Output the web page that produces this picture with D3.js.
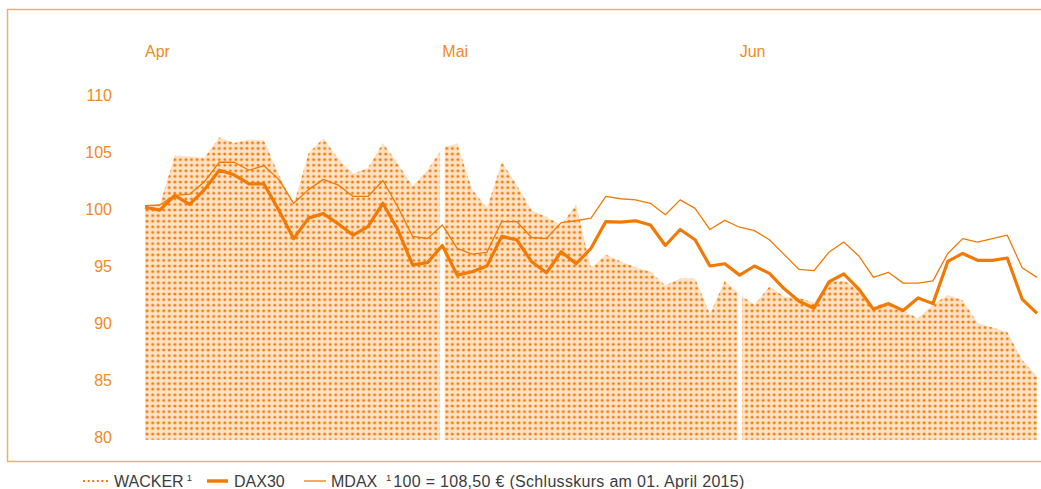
<!DOCTYPE html>
<html lang="de">
<head>
<meta charset="UTF-8">
<title>WACKER, DAX30, MDAX</title>
<script src="https://d3js.org/d3.v7.min.js"></script>
<style>
    body { margin: 0; background: #fff; }
    svg text { font-family: "Liberation Sans", Arial, sans-serif; }
</style>
</head>
<body>
<div id="chart"></div>
<script>
// Handelstage 1. April bis 30. Juni 2015, indexiert (01.04.2015 = 100)
var monate = ["Apr", "Mai", "Jun"]
var monatsStart = [0, 20, 40]   // Index des ersten Handelstags im Monat

var wacker = [100.3, 100.4, 104.7, 104.6, 104.5, 106.3, 105.8, 106.1, 106.0, 103.0,
              100.4, 104.9, 106.2, 104.4, 103.1, 103.6, 105.8, 104.0, 102.0, 103.4,
              105.4, 105.75, 101.7, 100.1, 104.15, 102.1, 99.9, 99.3, 98.6, 100.4,
              94.8, 96.0, 95.4, 94.9, 94.5, 93.3, 93.9, 93.9, 90.8, 93.7,
              92.5, 91.6, 93.2, 92.3, 92.2, 91.8, 93.6, 93.7, 93.0, 91.4,
              91.9, 91.1, 90.4, 91.6, 92.45, 92.0, 90.0, 89.6, 89.2, 86.75, 85.3]

var dax = [100.15, 99.9, 101.2, 100.4, 101.7, 103.4, 103.0, 102.2, 102.2, 99.9,
           97.4, 99.2, 99.6, 98.7, 97.7, 98.45, 100.5, 98.2, 95.1, 95.3,
           96.8, 94.2, 94.5, 95.0, 97.6, 97.3, 95.4, 94.4, 96.25, 95.2,
           96.55, 98.9, 98.85, 98.97, 98.6, 96.8, 98.2, 97.3, 95.0, 95.2,
           94.2, 95.0, 94.35, 93.0, 91.9, 91.3, 93.6, 94.3, 93.0, 91.2,
           91.7, 91.1, 92.2, 91.7, 95.4, 96.1, 95.5, 95.5, 95.7, 92.1, 90.85]

var mdax = [100.3, 100.35, 101.2, 101.3, 102.4, 104.1, 104.1, 103.4, 103.8, 102.6,
            100.5, 101.7, 102.6, 102.1, 101.1, 101.1, 102.5, 100.2, 97.6, 97.4,
            98.6, 96.55, 96.05, 96.2, 98.9, 98.9, 97.5, 97.4, 98.8, 98.97,
            99.2, 101.1, 100.9, 100.8, 100.5, 99.5, 100.8, 100.06, 98.2, 99.0,
            98.4, 98.1, 97.3, 96.0, 94.7, 94.6, 96.2, 97.1, 95.9, 94.0,
            94.45, 93.5, 93.5, 93.7, 96.1, 97.4, 97.1, 97.4, 97.7, 94.85, 94.0]

var yTicks = [80, 85, 90, 95, 100, 105, 110]
var basis = 79.75   // Unterkante der Fläche

var width = 1041
var height = 489
var orange = "#f07a05"
var textOrange = "#f08a24"
var rahmen = "#f4ad70"

var svg = d3.select("#chart")
    .append("svg")
    .attr("width", width)
    .attr("height", height)

// Punktraster für die Wacker-Fläche
var defs = svg.append("defs")
var pattern = defs.append("pattern")
    .attr("id", "punkte")
    .attr("patternUnits", "userSpaceOnUse")
    .attr("width", 5.55)
    .attr("height", 5.6)
pattern.append("rect")
    .attr("width", 5.55)
    .attr("height", 5.6)
    .attr("fill", "#fde2c6")
pattern.append("circle")
    .attr("cx", 2.8)
    .attr("cy", 2.8)
    .attr("r", 1.5)
    .attr("fill", "#f07c08")

var x = d3.scaleLinear()
    .domain([0, wacker.length - 1])
    .range([145, 1037])

var y = d3.scaleLinear()
    .domain([80, 110])
    .range([437, 95])

// Rahmen (oben, links, unten)
svg.append("path")
    .attr("d", "M" + width + ",9.5 H7.5 V461.5 H" + width)
    .attr("fill", "none")
    .attr("stroke", rahmen)
    .attr("stroke-width", 1.5)

// y-Achse (nur Beschriftung)
var yAxis = d3.axisLeft(y)
    .tickValues(yTicks)
    .tickSize(0)
    .tickPadding(0)
var gy = svg.append("g")
    .attr("transform", "translate(112,0)")
    .call(yAxis)
gy.select(".domain").remove()
gy.selectAll("text")
    .attr("fill", textOrange)
    .style("font-size", "16px")
    .attr("dy", "0.35em")

// Monatsnamen
svg.selectAll("text.monat")
    .data(monate)
    .enter()
    .append("text")
    .attr("class", "monat")
    .attr("x", function (d, i) { return x(monatsStart[i]) })
    .attr("y", 57)
    .attr("fill", textOrange)
    .style("font-size", "16px")
    .text(function (d) { return d })

// Wacker-Fläche
var area = d3.area()
    .x(function (d, i) { return x(i) })
    .y0(y(basis))
    .y1(function (d) { return y(d) })
svg.append("path")
    .datum(wacker)
    .attr("d", area)
    .attr("fill", "url(#punkte)")

// weiße Monatstrenner in der Fläche
svg.selectAll("line.trenner")
    .data(monatsStart.slice(1))
    .enter()
    .append("line")
    .attr("class", "trenner")
    .attr("x1", function (d) { return x(d) })
    .attr("x2", function (d) { return x(d) })
    .attr("y1", y(110))
    .attr("y2", y(basis) + 1)
    .attr("stroke", "#fff")
    .attr("stroke-width", 4.5)

var line = d3.line()
    .x(function (d, i) { return x(i) })
    .y(function (d) { return y(d) })

// MDAX dünn
svg.append("path")
    .datum(mdax)
    .attr("d", line)
    .attr("fill", "none")
    .attr("stroke", orange)
    .attr("stroke-width", 1.3)
    .attr("stroke-linejoin", "round")

// DAX30 dick
svg.append("path")
    .datum(dax)
    .attr("d", line)
    .attr("fill", "none")
    .attr("stroke", orange)
    .attr("stroke-width", 3.2)
    .attr("stroke-linejoin", "round")

// Legende
var legY = 481
var legende = svg.append("g")
    .style("font-size", "16px")
    .attr("fill", "#3c3c3c")

legende.append("line")
    .attr("x1", 83).attr("x2", 110)
    .attr("y1", legY).attr("y2", legY)
    .attr("stroke", orange)
    .attr("stroke-width", 2.2)
    .attr("stroke-dasharray", "2,2.6")
var t1 = legende.append("text").attr("x", 114).attr("y", legY + 6)
t1.append("tspan").text("WACKER")
t1.append("tspan").attr("dx", 3).attr("dy", -6).style("font-size", "9.5px").text("1")

legende.append("line")
    .attr("x1", 207).attr("x2", 228)
    .attr("y1", legY).attr("y2", legY)
    .attr("stroke", orange)
    .attr("stroke-width", 3.5)
legende.append("text").attr("x", 234).attr("y", legY + 6).text("DAX30")

legende.append("line")
    .attr("x1", 304).attr("x2", 326)
    .attr("y1", legY).attr("y2", legY)
    .attr("stroke", orange)
    .attr("stroke-width", 1.3)
legende.append("text").attr("x", 331).attr("y", legY + 6).text("MDAX")

var t2 = legende.append("text").attr("x", 386).attr("y", legY + 6)
t2.append("tspan").attr("dy", -6).style("font-size", "9.5px").text("1")
t2.append("tspan").attr("dy", 6).attr("dx", 2)
    .style("letter-spacing", "0.3px")
    .text("100 = 108,50 € (Schlusskurs am 01. April 2015)")
</script>
</body>
</html>
